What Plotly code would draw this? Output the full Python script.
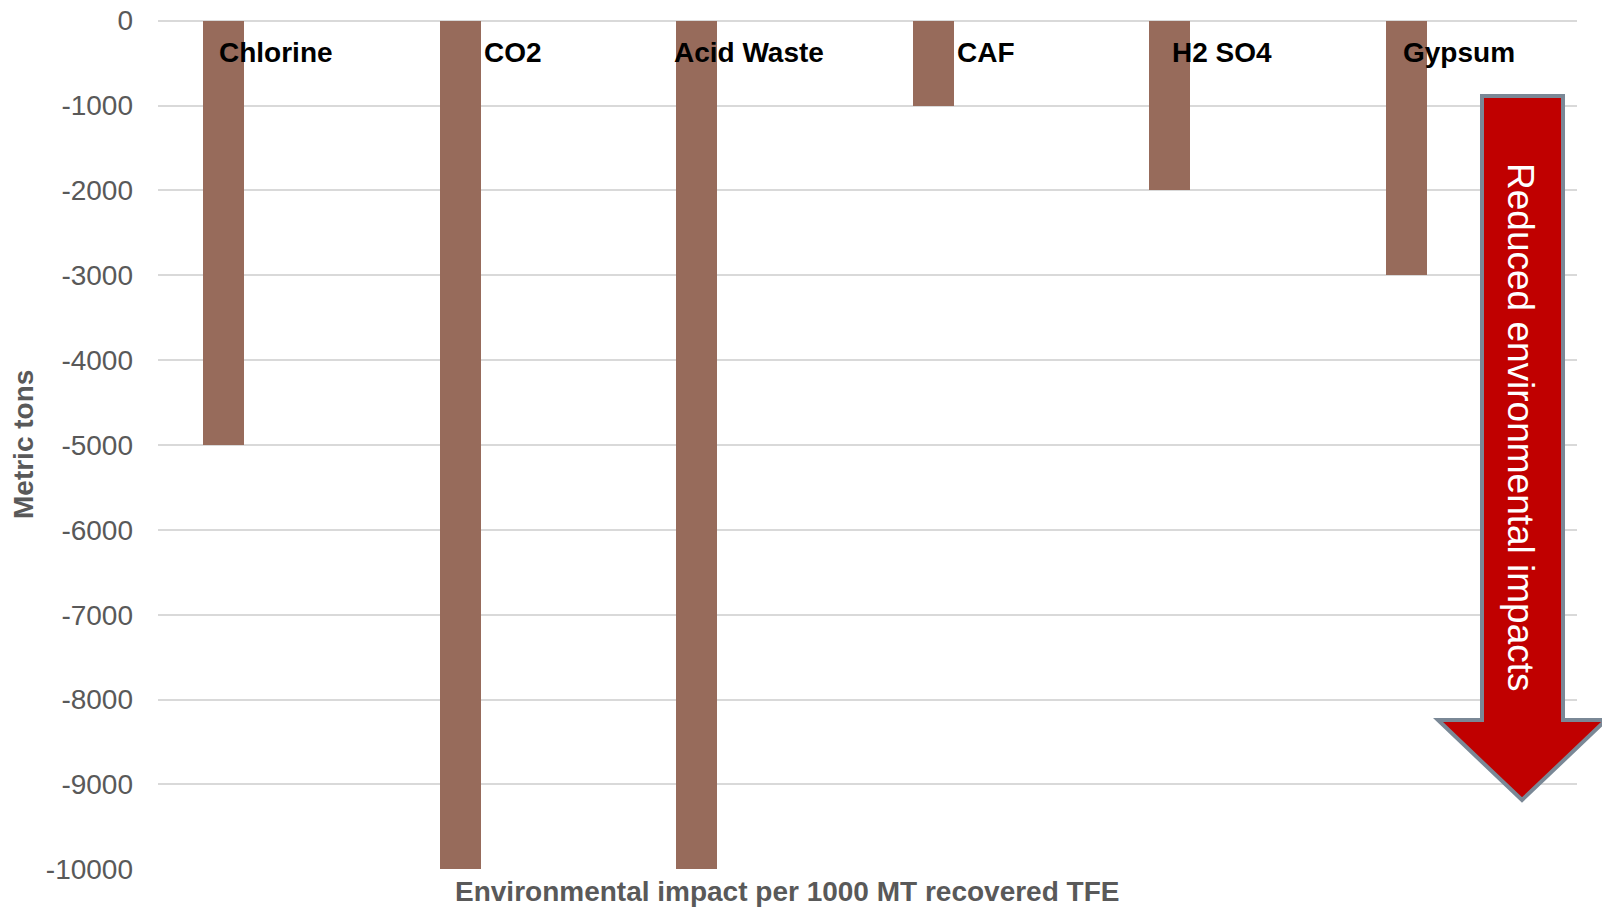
import plotly.graph_objects as go

categories = ["Chlorine", "CO2", "Acid Waste", "CAF", "H2 SO4", "Gypsum"]
values = [-5000, -10000, -10000, -1000, -2000, -3000]
y_ticks = [0, -1000, -2000, -3000, -4000, -5000, -6000, -7000, -8000, -9000, -10000]

W, H = 1602, 907
L, R, T, B = 158, 25, 20, 37
pw, ph = W - L - R, H - T - B

def px(x):
    return (x - L) / pw

def py(y):
    return (H - B - y) / ph

idx = list(range(len(categories)))
FONT = "Liberation Sans, Arial, sans-serif"

fig = go.Figure()
fig.add_trace(go.Bar(
    x=idx, y=values, width=0.173, offset=-0.309,
    marker=dict(color="#976B5B", line=dict(width=0)),
    hoverinfo="skip", showlegend=False,
))

for i, c in enumerate(categories):
    fig.add_annotation(x=i, y=-376, xref="x", yref="y", text="<b>%s</b>" % c,
                       showarrow=False, font=dict(size=28, color="#000000", family=FONT),
                       xanchor="center", yanchor="middle")

# arrow shape (decoration)
pts = [(1482, 96), (1563, 96), (1563, 720), (1606, 720), (1522, 800),
       (1438, 720), (1482, 720)]
path = "M " + " L ".join("%f,%f" % (px(x), py(y)) for x, y in pts) + " Z"
fig.add_shape(type="path", path=path, xref="paper", yref="paper",
              fillcolor="#C00000", line=dict(color="#7A8896", width=4), layer="above")
fig.add_annotation(x=px(1521), y=py(427), xref="paper", yref="paper",
                   text="Reduced environmental impacts", textangle=90,
                   showarrow=False, font=dict(size=37, color="#FFFFFF", family=FONT),
                   xanchor="center", yanchor="middle")

fig.add_annotation(x=px(787), y=py(891), xref="paper", yref="paper",
                   text="<b>Environmental impact per 1000 MT recovered TFE</b>",
                   showarrow=False, font=dict(size=28, color="#595959", family=FONT),
                   xanchor="center", yanchor="middle")
fig.add_annotation(x=px(23), y=py(445), xref="paper", yref="paper",
                   text="<b>Metric tons</b>", textangle=-90,
                   showarrow=False, font=dict(size=28, color="#595959", family=FONT),
                   xanchor="center", yanchor="middle")

fig.update_layout(
    width=W, height=H,
    margin=dict(l=L, r=R, t=T, b=B, autoexpand=False),
    paper_bgcolor="white", plot_bgcolor="white",
    font=dict(family=FONT, color="#595959"),
    xaxis=dict(range=[-0.5, len(categories) - 0.5], showticklabels=False,
               showgrid=False, zeroline=False, showline=False, ticks=""),
    yaxis=dict(range=[-10008, 8], tickvals=y_ticks, ticktext=[str(v) for v in y_ticks],
               showgrid=True, gridcolor="#D9D9D9", gridwidth=2,
               zeroline=True, zerolinecolor="#D9D9D9", zerolinewidth=2,
               showline=False, ticks="", ticklabelstandoff=24,
               tickfont=dict(size=28, color="#595959")),
    bargap=0,
)

fig.write_html("out.html", config={"displayModeBar": False},
               post_script="document.body.style.margin='0';document.body.style.overflow='hidden';")
